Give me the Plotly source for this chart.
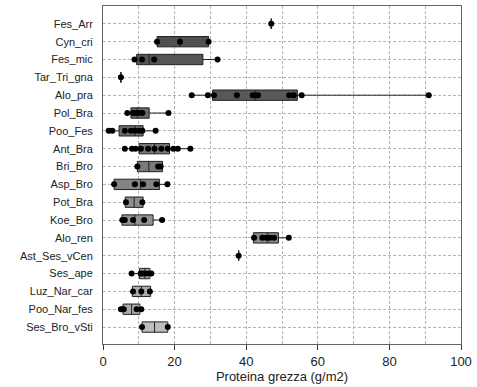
import plotly.graph_objects as go

categories = ["Fes_Arr", "Cyn_cri", "Fes_mic", "Tar_Tri_gna", "Alo_pra", "Pol_Bra",
              "Poo_Fes", "Ant_Bra", "Bri_Bro", "Asp_Bro", "Pot_Bra", "Koe_Bro",
              "Alo_ren", "Ast_Ses_vCen", "Ses_ape", "Luz_Nar_car", "Poo_Nar_fes", "Ses_Bro_vSti"]

# box statistics (g/m2)
lower_whisker = [47.0, 15.1, 8.8, 5.0, 24.8, 6.8, 1.6, 6.1, 9.6, 3.1, 6.4, 5.4, 42.2, 37.9, 8.0, 8.2, 5.0, 10.9]
q1_values     = [47.0, 15.1, 9.4, 5.0, 30.6, 7.8, 4.5, 10.1, 9.6, 3.1, 6.2, 5.3, 42.0, 37.9, 10.2, 8.2, 5.6, 10.9]
median_values = [47.0, 21.5, 12.9, 5.0, 42.5, 9.6, 8.9, 14.4, 12.8, 10.5, 8.7, 8.9, 46.0, 37.9, 11.7, 10.7, 8.0, 14.4]
q3_values     = [47.0, 29.5, 27.9, 5.0, 54.3, 12.9, 11.2, 18.6, 16.6, 15.8, 11.2, 14.0, 49.0, 37.9, 13.1, 13.3, 10.3, 18.1]
upper_whisker = [47.0, 29.5, 32.0, 5.0, 91.0, 18.3, 14.7, 24.4, 16.6, 18.0, 11.2, 16.5, 51.9, 37.9, 13.8, 13.3, 11.2, 18.1]

# individual observations
observations = {
    "Fes_Arr": [47.0],
    "Cyn_cri": [15.1, 21.5, 29.5],
    "Fes_mic": [8.8, 10.9, 14.3, 32.0],
    "Tar_Tri_gna": [5.0],
    "Alo_pra": [24.8, 29.3, 31.0, 37.4, 41.8, 42.6, 43.3, 52.0, 53.3, 55.5, 91.0],
    "Pol_Bra": [6.8, 8.4, 9.2, 10.1, 11.0, 18.3],
    "Poo_Fes": [1.6, 2.6, 6.1, 7.8, 8.9, 10.1, 11.0, 14.7],
    "Ant_Bra": [6.1, 8.1, 9.1, 10.6, 12.6, 14.4, 16.3, 18.1, 19.7, 20.9, 24.4],
    "Bri_Bro": [9.6, 15.4, 16.1],
    "Asp_Bro": [3.1, 8.9, 11.2, 14.9, 18.0],
    "Pot_Bra": [6.4, 11.0],
    "Koe_Bro": [5.4, 6.1, 8.4, 11.5, 16.5],
    "Alo_ren": [42.2, 44.5, 45.6, 46.6, 47.8, 51.9],
    "Ast_Ses_vCen": [37.9],
    "Ses_ape": [8.0, 10.5, 11.0, 11.7, 12.6, 13.5],
    "Luz_Nar_car": [8.4, 10.7, 13.1],
    "Poo_Nar_fes": [5.0, 5.4, 5.8, 9.4, 10.7],
    "Ses_Bro_vSti": [10.9, 18.1],
}

box_colors = ["#4d4d4d", "#505050", "#555555", "#5a5a5a", "#585858", "#6a6a6a",
              "#6e6e6e", "#777777", "#7a7a7a", "#848484", "#8e8e8e", "#929292",
              "#8a8a8a", "#999999", "#a6a6a6", "#aaaaaa", "#ababab", "#bdbdbd"]

FONT = "Arial, Liberation Sans, Helvetica, sans-serif"

fig = go.Figure()
for i, cat in enumerate(categories):
    fig.add_trace(go.Box(
        y=[cat], orientation="h",
        q1=[q1_values[i]], median=[median_values[i]], q3=[q3_values[i]],
        lowerfence=[lower_whisker[i]], upperfence=[upper_whisker[i]],
        fillcolor=box_colors[i], line=dict(color="#222222", width=1),
        whiskerwidth=0, width=0.58, boxpoints=False, showlegend=False,
        hoverinfo="skip",
    ))

px, py = [], []
for cat in categories:
    for v in observations[cat]:
        px.append(v)
        py.append(cat)
fig.add_trace(go.Scatter(x=px, y=py, mode="markers",
                         marker=dict(color="black", size=6), showlegend=False))

grid = dict(gridcolor="#b4b4b4", griddash="3px,2px", gridwidth=1)
fig.update_layout(
    width=477, height=387,
    margin=dict(l=103, r=14, t=5, b=42),
    paper_bgcolor="white", plot_bgcolor="white",
    boxmode="overlay",
    font=dict(family=FONT, color="#222222", size=12),
)
fig.update_xaxes(
    range=[0, 100], tick0=0, dtick=20, showgrid=True, **grid,
    minor=dict(dtick=10, showgrid=True, **grid),
    ticks="outside", ticklen=5, tickcolor="#333333",
    showline=True, linecolor="#666666", linewidth=1, mirror=True, zeroline=False,
    tickfont=dict(size=13, family=FONT), ticklabeloverflow="allow",
    title=dict(text="Proteina grezza (g/m2)", font=dict(size=13, family=FONT), standoff=4),
)
fig.update_yaxes(
    type="category", categoryorder="array", categoryarray=categories,
    range=[17.95, -1], showgrid=True, **grid,
    ticks="", showline=True, linecolor="#666666", linewidth=1, mirror=True,
    ticklabelstandoff=7, tickfont=dict(size=11, family=FONT),
)

# remove the default page margin so the figure sits at the window's top-left corner
fig.write_html("out.html",
               config={"displayModeBar": False},
               post_script="document.body.style.margin='0';document.body.style.overflow='hidden';")
